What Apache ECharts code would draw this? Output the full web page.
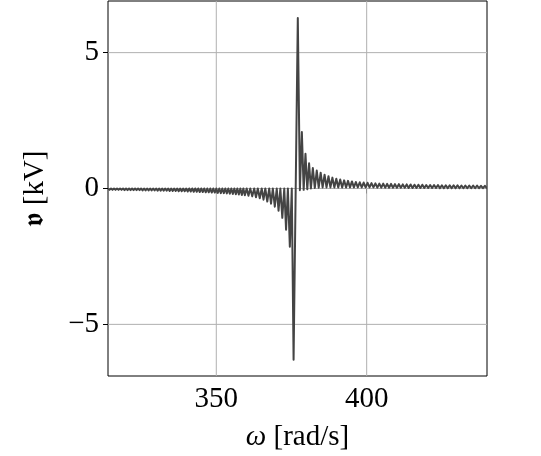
<!DOCTYPE html>
<html>
<head>
<meta charset="utf-8">
<script src="https://cdn.jsdelivr.net/npm/echarts@6/dist/echarts.min.js"></script>
<style>
html,body{margin:0;padding:0;background:#fff;}
#chart{width:541px;height:456px;}
</style>
</head>
<body>
<div id="chart"></div>
<script>
// frequency samples (rad/s)
const omega = [
314.0,314.5,315.0,315.5,316.0,316.5,317.0,317.5,318.0,318.5,319.0,319.5,320.0,320.5,321.0,321.5,322.0,322.5,323.0,323.5,
324.0,324.5,325.0,325.5,326.0,326.5,327.0,327.5,328.0,328.5,329.0,329.5,330.0,330.5,331.0,331.5,332.0,332.5,333.0,333.5,
334.0,334.5,335.0,335.5,336.0,336.5,337.0,337.5,338.0,338.5,339.0,339.5,340.0,340.5,341.0,341.5,342.0,342.5,343.0,343.5,
344.0,344.5,345.0,345.5,346.0,346.5,347.0,347.5,348.0,348.5,349.0,349.5,350.0,350.5,351.0,351.5,352.0,352.5,353.0,353.5,
354.0,354.5,355.0,355.5,356.0,356.5,357.0,357.5,358.0,358.5,359.0,359.5,
360.1,360.7,361.3,361.95,362.6,363.2,363.8,364.45,365.1,365.7,366.3,366.95,367.6,368.2,368.8,369.45,370.1,370.7,371.3,371.95,
372.6,373.2,373.8,374.45,375.1,375.7,
377.1,377.8,378.45,379.05,379.65,380.25,380.85,381.45,
382.1,382.75,383.4,384.05,384.7,385.35,386.0,386.65,387.3,387.95,388.6,389.25,389.9,390.55,391.2,391.85,392.5,393.15,393.8,394.45,
395.1,395.75,396.4,397.05,397.7,398.35,399.0,399.65,400.3,400.95,401.6,402.25,402.9,403.55,404.2,404.85,405.5,406.15,406.8,407.45,
408.1,408.75,409.4,410.05,410.7,411.35,412.0,412.65,413.3,413.95,414.6,415.25,415.9,416.55,417.2,417.85,418.5,419.15,419.8,420.45,
421.1,421.75,422.4,423.05,423.7,424.35,425.0,425.65,426.3,426.95,427.6,428.25,428.9,429.55,430.2,430.85,431.5,432.15,432.8,433.45,
434.1,434.75,435.4,436.05,436.7,437.35,438.0,438.65,439.3,439.95,440.6
];
// voltage (kV)
const volt = [
0,-0.05,0,-0.05,0,-0.05,0,-0.05,0,-0.05,0,-0.06,0,-0.06,0,-0.06,0,-0.06,0,-0.06,
0,-0.06,0,-0.07,0,-0.07,0,-0.07,0,-0.07,0,-0.07,0,-0.08,0,-0.08,0,-0.08,0,-0.08,
0,-0.09,0,-0.09,0,-0.09,0,-0.10,0,-0.10,0,-0.10,0,-0.11,0,-0.11,0,-0.12,0,-0.12,
0,-0.13,0,-0.13,0,-0.14,0,-0.14,0,-0.15,0,-0.15,0,-0.16,0,-0.17,0,-0.17,0,-0.18,
0,-0.19,0,-0.20,0,-0.21,0,-0.22,0,-0.24,0,-0.25,
0,-0.27,0,-0.29,0,-0.32,0,-0.36,0,-0.41,0,-0.48,0,-0.56,0,-0.67,0,-0.82,0,-1.08,
0,-1.52,0,-2.14,0,-6.30,
6.27,-0.06,2.08,-0.05,1.28,-0.03,0.93,0.0,
0.75,0.02,0.66,0.03,0.58,0.04,0.51,0.04,0.45,0.04,0.40,0.04,0.36,0.04,0.33,0.04,0.30,0.04,0.28,0.04,
0.26,0.04,0.24,0.04,0.23,0.04,0.22,0.04,0.21,0.04,0.20,0.04,0.19,0.03,0.18,0.03,0.18,0.03,0.17,0.03,
0.17,0.03,0.16,0.03,0.16,0.03,0.15,0.03,0.15,0.02,0.15,0.02,0.14,0.02,0.14,0.02,0.14,0.02,0.13,0.02,
0.13,0.02,0.13,0.02,0.13,0.01,0.12,0.01,0.12,0.01,0.12,0.01,0.12,0.01,0.12,0.01,0.11,0.01,0.11,0.01,
0.11,0.01,0.11,0.01,0.11,0.01,0.10,0.01,0.10,0.01,0.10
];
const xTicks = [350, 400];
const yTicks = [-5, 0, 5];
const xRange = [314, 440];
const yRange = [-6.9, 6.9];

const serif = 'Liberation Serif';
const fmt = v => (v < 0 ? '\u2212' + Math.abs(v) : String(v));
const chart = echarts.init(document.getElementById('chart'), null, {renderer: 'canvas'});

const gridSeries = xTicks.map(v => ({
  type: 'line', z: 1, silent: true, symbol: 'none', showSymbol: false,
  lineStyle: {color: '#b0b0b0', width: 1}, data: [[v, yRange[0]], [v, yRange[1]]]
})).concat(yTicks.map(v => ({
  type: 'line', z: 1, silent: true, symbol: 'none', showSymbol: false,
  lineStyle: {color: '#b0b0b0', width: 1}, data: [[xRange[0], v], [xRange[1], v]]
})));

const pairs = omega.map((w, i) => [w, volt[i]]);

chart.setOption({
  animation: false,
  backgroundColor: '#fff',
  grid: {left: 108, right: 54, top: 1, bottom: 80, show: true, borderColor: '#000', borderWidth: 1,
         backgroundColor: 'transparent', containLabel: false, outerBoundsMode: 'none'},
  xAxis: {
    type: 'value', min: xRange[0], max: xRange[1],
    name: '{i|ω} [rad/s]', nameLocation: 'middle', nameGap: 47,
    nameTextStyle: {fontFamily: serif, fontSize: 29, color: '#000', rich: {i: {fontFamily: serif, fontStyle: 'italic', fontSize: 29}}},
    axisLine: {show: false},
    axisTick: {show: true, length: 5, lineStyle: {color: '#000', width: 1}, customValues: xTicks},
    axisLabel: {fontFamily: serif, fontSize: 29, color: '#000', margin: 9, customValues: xTicks, formatter: fmt},
    splitLine: {show: false}
  },
  yAxis: {
    type: 'value', min: yRange[0], max: yRange[1],
    name: '𝖛 [kV]', nameLocation: 'middle', nameGap: 58, nameRotate: 90,
    nameTextStyle: {fontFamily: serif, fontSize: 29, color: '#000'},
    axisLine: {show: false},
    axisTick: {show: true, length: 5, lineStyle: {color: '#000', width: 1}, customValues: yTicks},
    axisLabel: {fontFamily: serif, fontSize: 29, color: '#000', margin: 9, customValues: yTicks, formatter: fmt},
    splitLine: {show: false}
  },
  series: gridSeries.concat([
    {
      type: 'custom', z: 5, clip: true, silent: true,
      encode: {x: 0, y: 1},
      data: pairs,
      renderItem: function (params, api) {
        if (params.dataIndex !== 0) return null;
        const pts = pairs.map(p => api.coord(p));
        const cs = params.coordSys;
        return {
          type: 'group',
          children: [{
            type: 'polyline',
            shape: {points: pts},
            style: {stroke: '#444444', lineWidth: 2, fill: null, lineJoin: 'round'}
          }],
          clipPath: {type: 'rect', shape: {x: cs.x, y: cs.y, width: cs.width, height: cs.height}}
        };
      }
    }
  ])
});
</script>
</body>
</html>
